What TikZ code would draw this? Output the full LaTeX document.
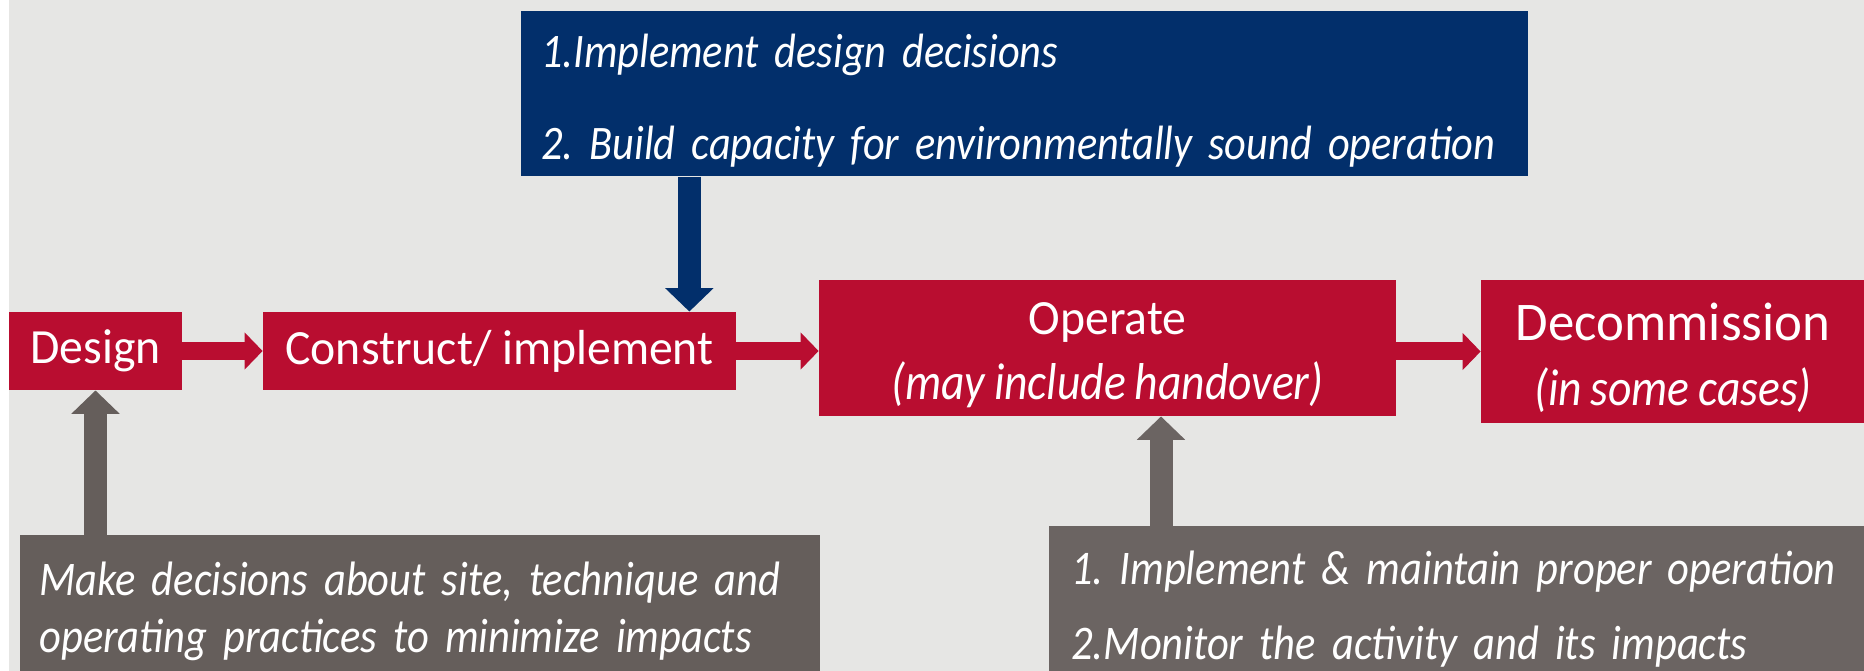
\documentclass[tikz,border=0pt]{standalone}
\usepackage{fontspec}
\setmainfont{Carlito}[UprightFeatures={FakeStretch=0.97},
        ItalicFeatures={FakeStretch=0.88, WordSpace=0.85}]
\usepackage{xcolor}
\usetikzlibrary{arrows.meta}

\definecolor{stagered}{HTML}{B90D30}
\definecolor{planblue}{HTML}{022F6B}
\definecolor{notegray}{HTML}{655E5B}
\definecolor{notegrayb}{HTML}{6B6462}
\definecolor{backgray}{HTML}{E6E6E4}
\newcommand{\subline}{\itshape\fontsize{29.5}{33}\selectfont}
\frenchspacing

\begin{document}
\begin{tikzpicture}[x=0.2mm, y=-0.2mm,
        stage/.style={fill=stagered, text=white, inner sep=0pt, align=center,
                      font=\fontsize{28}{33}\selectfont},
        note/.style={anchor=north west, text=white, inner ysep=0pt, align=left},
        flow/.style={draw=stagered, line width=3.6mm,
                     -{Triangle[width=7.2mm,length=3.6mm]}},
        feed/.style={draw=#1, line width=4.6mm,
                     -{Triangle[width=9.4mm,length=4.7mm]}}]
        \useasboundingbox (0,0) rectangle (1864,671);
        \clip (0,0) rectangle (1864,671);
        \fill[backgray] (9,0) rectangle (1864,671);

        % stages
        \node[stage, minimum width=34.6mm, minimum height=15.6mm] (design) at (95.5,351) {Design};
        \node[stage, minimum width=94.6mm, minimum height=15.6mm] (construct) at (499.5,351) {Construct/ implement};
        \node[stage, minimum width=115.4mm, minimum height=27.2mm] (operate) at (1107.5,348)
                {\rule{0pt}{26pt}Operate\\[4pt]{\subline(may include handover)}};
        \node[stage, minimum width=76.8mm, minimum height=28.6mm] (decom) at (1673,351.5)
                {\rule{0pt}{28pt}{\fontsize{31}{33}\selectfont Decommission}\\[4pt]{\subline(in some cases)}};

        % notes
        \node[note, fill=planblue, text width=193.4mm, inner xsep=4mm, minimum height=33mm,
              font=\itshape\fontsize{27.4}{52.5}\selectfont] (plan) at (521,11)
                {\rule{0pt}{27pt}\mbox{1.Implement design decisions}\\\mbox{2. Build capacity for environmentally sound operation}};
        \node[note, fill=notegray, text width=152.4mm, inner xsep=3.8mm, minimum height=30.4mm,
              font=\itshape\fontsize{27.5}{32.6}\selectfont] (choices) at (20,535)
                {\mbox{Make decisions about site, technique and}\\\mbox{operating practices to minimize impacts}};
        \node[note, fill=notegrayb, text width=157.4mm, inner xsep=4.4mm, minimum height=33.2mm,
              font=\itshape\fontsize{27.5}{42.7}\selectfont] (tasks) at (1049,526)
                {\mbox{1. Implement \& maintain proper operation}\\\mbox{2.Monitor the activity and its impacts}};

        % arrows
        \draw[flow] (design) -- (construct);
        \draw[flow] (construct.east) -- (construct.east -| operate.west);
        \draw[flow] (decom.west -| operate.east) -- (decom.west);
        \draw[feed=planblue] ([xshift=-9.4mm]construct.north east |- plan.south) -- ([xshift=-9.4mm]construct.north east);
        \draw[feed=notegray] (design.south |- choices.north) -- (design.south);
        \draw[feed=notegrayb] ([xshift=10.7mm]operate.south |- tasks.north) -- ([xshift=10.7mm]operate.south);
\end{tikzpicture}
\end{document}
